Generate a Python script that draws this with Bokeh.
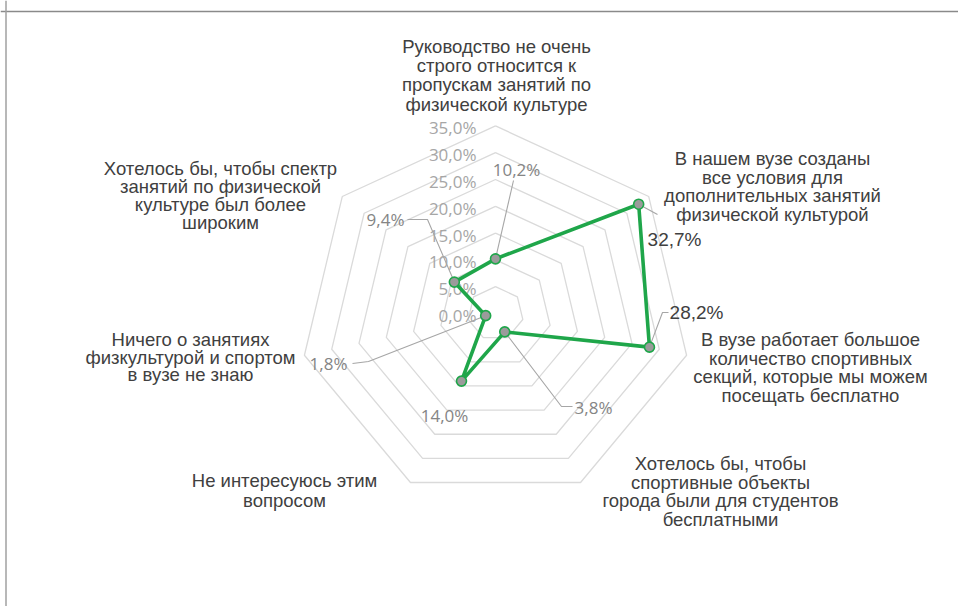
import numpy as np
from bokeh.plotting import figure
from bokeh.models import Range1d, Span
from bokeh.embed import file_html
from bokeh.resources import INLINE
from bokeh.core.properties import value

# ---------------- data ----------------
categories = [
    "Руководство не очень\nстрого относится к\nпропускам занятий по\nфизической культуре",
    "В нашем вузе созданы\nвсе условия для\nдополнительных занятий\nфизической культурой",
    "В вузе работает большое\nколичество спортивных\nсекций, которые мы можем\nпосещать бесплатно",
    "Хотелось бы, чтобы\nспортивные объекты\nгорода были для студентов\nбесплатными",
    "Не интересуюсь этим\nвопросом",
    "Ничего о занятиях\nфизкультурой и спортом\nв вузе не знаю",
    "Хотелось бы, чтобы спектр\nзанятий по физической\nкультуре был более\nшироким",
]
values = [10.2, 32.7, 28.2, 3.8, 14.0, 1.8, 9.4]
value_labels = ["10,2%", "32,7%", "28,2%", "3,8%", "14,0%", "1,8%", "9,4%"]
ring_levels = [5, 10, 15, 20, 25, 30, 35]
tick_values = [0, 5, 10, 15, 20, 25, 30, 35]
tick_labels = ["0,0%", "5,0%", "10,0%", "15,0%", "20,0%", "25,0%", "30,0%", "35,0%"]

# ---------------- layout ----------------
W, H = 958, 606
OFF = 0
CX_PAGE, CY_PAGE = 495.0, 313.0
SX, SY = 5.6, 5.36  # px per percent


def X(px):
    return (px - CX_PAGE) / SX


def Y(py):
    return (CY_PAGE - py) / SY


n = len(values)
theta = np.pi / 2 - np.arange(n) * 2 * np.pi / n

p = figure(width=W, height=H, output_backend="svg", toolbar_location=None,
           x_range=Range1d(X(OFF), X(OFF + W)), y_range=Range1d(Y(OFF + H), Y(OFF)),
           min_border=0)
p.axis.visible = False
p.xgrid.visible = False
p.ygrid.visible = False
p.outline_line_color = None
p.background_fill_color = "white"
p.border_fill_color = "white"

# frame lines (top and left)
p.add_layout(Span(location=Y(11), dimension="width", line_color="#8a8a8a", line_width=1.5))
p.add_layout(Span(location=X(5.5), dimension="height", line_color="#a0a0a0", line_width=1.5))

# rings
rx, ry = [], []
for lv in ring_levels:
    xs = list(lv * np.cos(theta)) + [lv * np.cos(theta[0])]
    ys = list(lv * np.sin(theta)) + [lv * np.sin(theta[0])]
    rx.append(xs)
    ry.append(ys)
p.multi_line(rx, ry, line_color="#dadada", line_width=1.3)

# tick labels
p.text(x=[X(476)] * len(tick_values), y=[v for v in tick_values], text=tick_labels,
       text_font=value("Open Sans"), text_font_size="17px", text_color="#a6a6a6",
       text_align="right", text_baseline="middle", y_offset=2)

# data polygon
vals = np.array(values)
px_ = vals * np.cos(theta)
py_ = vals * np.sin(theta)

# leader lines (page coords of label side -> data point)
leaders = {
    0: [(513, 180)],
    1: [(657, 214)],
    2: [(668, 312), (662, 312)],
    3: [(572, 406), (561, 406)],
    5: [(352, 363), (368, 361)],
    6: [(407, 219), (427, 219)],
}
lx, ly = [], []
for k, pts in leaders.items():
    lx.append([X(a) for a, b in pts] + [px_[k]])
    ly.append([Y(b) for a, b in pts] + [py_[k]])
p.multi_line(lx, ly, line_color="#a6a6a6", line_width=1.1)

p.line(list(px_) + [px_[0]], list(py_) + [py_[0]], line_color="#1fa64a", line_width=3.6)
p.scatter(px_, py_, size=10, fill_color="#9b9b9b", line_color="#1fa64a", line_width=1.6)

# value labels
gray_pos = {0: (516, 169), 6: (385, 219), 5: (328, 363), 4: (444, 415), 3: (593, 407)}
dark_pos = {1: (674, 239), 2: (696, 312)}
p.text(x=[X(a) for a, b in gray_pos.values()], y=[Y(b) for a, b in gray_pos.values()],
       text=[value_labels[k] for k in gray_pos], text_font=value("Open Sans"),
       text_font_size="17px", text_color="#858585", text_align="center", text_baseline="middle")
p.text(x=[X(a) for a, b in dark_pos.values()], y=[Y(b) for a, b in dark_pos.values()],
       text=[value_labels[k] for k in dark_pos], text_font=value("Liberation Sans"),
       text_font_size="19px", text_color="#404040", text_align="center", text_baseline="middle")

# category labels: (center x, first line center y, line spacing) in page px
cat_pos = [(496, 46, 19.2), (772, 158, 18.5), (810, 339, 18.5), (720, 463, 18.5),
           (284, 480, 20.0), (190, 339, 17.5), (220, 168, 18.0)]
tx, ty, tt = [], [], []
for lab, (cx, cy, sp) in zip(categories, cat_pos):
    for i, line in enumerate(lab.split("\n")):
        tx.append(X(cx))
        ty.append(Y(cy + i * sp))
        tt.append(line)
p.text(x=tx, y=ty, text=tt, text_font=value("Liberation Sans"), text_font_size="18.5px",
       text_color="#404040", text_align="center", text_baseline="middle")

open("out.html", "w").write(file_html(p, INLINE))
